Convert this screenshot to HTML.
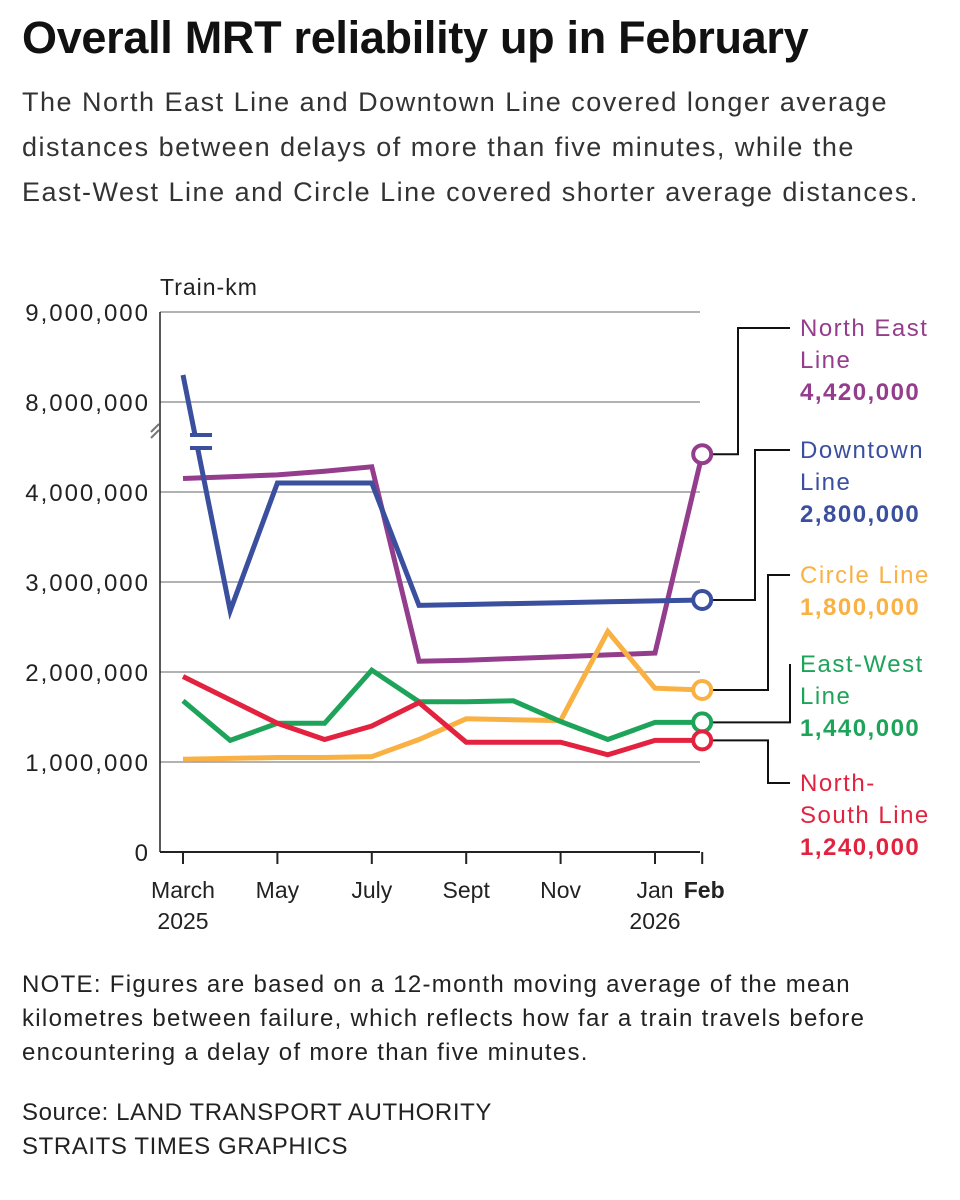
<!DOCTYPE html>
<html><head><meta charset="utf-8"><style>
body{margin:0;background:#fff;width:960px;height:1200px;overflow:hidden;font-family:"Liberation Sans",sans-serif;}
.t{position:absolute;left:22px;top:12px;font-size:45px;font-weight:bold;color:#111;letter-spacing:-0.3px}
.s{position:absolute;left:22px;top:80px;font-size:27px;line-height:45px;color:#333;white-space:nowrap;letter-spacing:1.5px}
.n{position:absolute;left:22px;top:968px;font-size:24px;line-height:34px;color:#222;white-space:nowrap;letter-spacing:1.3px}
.src{position:absolute;left:22px;top:1096px;font-size:24px;line-height:34px;color:#222;letter-spacing:0.6px}
svg{position:absolute;left:0;top:0}
</style></head><body>
<div class="t">Overall MRT reliability up in February</div>
<div class="s">The North East Line and Downtown Line covered longer average<br>distances between delays of more than five minutes, while the<br>East-West Line and Circle Line covered shorter average distances.</div>
<svg id="c" width="960" height="1200"></svg>
<div class="n">NOTE: Figures are based on a 12-month moving average of the mean<br>kilometres between failure, which reflects how far a train travels before<br>encountering a delay of more than five minutes.</div>
<div class="src">Source: LAND TRANSPORT AUTHORITY<br>STRAITS TIMES GRAPHICS</div>
<script>
const months=["Mar","Apr","May","Jun","Jul","Aug","Sep","Oct","Nov","Dec","Jan","Feb"];
const nel=[4150000,4170000,4190000,4230000,4280000,2120000,2130000,2150000,2170000,2190000,2210000,4420000];
const dtl=[8300000,2680000,4100000,4100000,4100000,2740000,2750000,2760000,2770000,2780000,2790000,2800000];
const ccl=[1030000,1040000,1050000,1050000,1060000,1250000,1480000,1470000,1460000,2450000,1820000,1800000];
const ewl=[1680000,1240000,1430000,1430000,2020000,1670000,1670000,1680000,1450000,1250000,1440000,1440000];
const nsl=[1950000,1690000,1430000,1250000,1400000,1660000,1220000,1220000,1220000,1080000,1240000,1240000];
const yTicks=[0,1000000,2000000,3000000,4000000,8000000,9000000];
const yTickLabels=["0","1,000,000","2,000,000","3,000,000","4,000,000","8,000,000","9,000,000"];
const xTickIdx=[0,2,4,6,8,10,11];
const xTickLabels=[["March","2025"],["May",""],["July",""],["Sept",""],["Nov",""],["Jan","2026"],["Feb",""]];
const series=[
 {name:"north-east-line",vals:nel,color:"#953d8d",label:["North East","Line"],value:"4,420,000",ly:328},
 {name:"downtown-line",vals:dtl,color:"#3a4f9e",label:["Downtown","Line"],value:"2,800,000",ly:450},
 {name:"circle-line",vals:ccl,color:"#f9b143",label:["Circle Line"],value:"1,800,000",ly:575},
 {name:"east-west-line",vals:ewl,color:"#1ea45a",label:["East-West","Line"],value:"1,440,000",ly:664},
 {name:"north-south-line",vals:nsl,color:"#e2223e",label:["North-","South Line"],value:"1,240,000",ly:783}];
const connX=[738,755,768,790,768];
const svg=document.getElementById('c');const NS="http://www.w3.org/2000/svg";
function el(t,a,p){const e=document.createElementNS(NS,t);for(const k in a)e.setAttribute(k,a[k]);(p||svg).appendChild(e);return e;}
function x(i){return 183+i*47.2;}
function y(v){return v>=6000000?402-(v-8000000)/1000000*90:852-v/1000000*90;}
yTicks.forEach((v,i)=>{
 const g=el('line',{x1:160,x2:700,y1:y(v),y2:y(v),stroke:i==0?"#222":"#999","stroke-width":i==0?2:1.5});
 
 const t=el('text',{x:150,y:y(v)+9,"text-anchor":"end","font-size":24,fill:"#222","letter-spacing":2});t.textContent=yTickLabels[i];
 
});
let ax=el('line',{x1:160,x2:160,y1:312,y2:852,stroke:"#222","stroke-width":1.5});

let yt=el('text',{x:160,y:295,"font-size":23,fill:"#222","letter-spacing":1});yt.textContent="Train-km";

let br=el('g',{stroke:"#777","stroke-width":2});
el('line',{x1:151,y1:432,x2:159,y2:424},br);el('line',{x1:151,y1:438,x2:159,y2:430},br);
xTickIdx.forEach((idx,i)=>{
 const tk=el('line',{x1:x(idx),x2:x(idx),y1:852,y2:864,stroke:"#222","stroke-width":2});
 
 const t=el('text',{x:x(idx)+(idx==11?2:0),y:898,"text-anchor":"middle","font-size":23,fill:"#222","font-weight":idx==11?"bold":"normal"});
 
 t.textContent=xTickLabels[i][0];
 if(xTickLabels[i][1]){const t2=el('text',{x:x(idx),y:929,"text-anchor":"middle","font-size":23,fill:"#222"});t2.textContent=xTickLabels[i][1];
 }
});
series.forEach((s,k)=>{
 const d=s.vals.map((v,i)=>(i?"L":"M")+x(i)+","+y(v)).join(" ");
 const p=el('path',{d:d,fill:"none",stroke:s.color,"stroke-width":5,"stroke-linejoin":"miter"});
 
});
let bm=el('g',{stroke:"#3a4f9e","stroke-width":4});
el('line',{x1:190,x2:212,y1:435,y2:435},bm);el('line',{x1:190,x2:212,y1:448,y2:448},bm);
el('rect',{x:190,y:437,width:22,height:9,fill:"#fff",stroke:"none"},svg);
series.forEach((s,k)=>{
 const ex=x(11),ey=y(s.vals[11]),cx=connX[k];
 const c=el('path',{d:`M${ex+10},${ey} H${cx} V${s.ly} H790`,fill:"none",stroke:"#111","stroke-width":2});
 
 const m=el('circle',{cx:ex,cy:ey,r:9,fill:"#fff",stroke:s.color,"stroke-width":4});
 
 const top=s.ly-1;
 s.label.forEach((l,j)=>{const t=el('text',{x:800,y:top+9+j*32,"font-size":24,fill:s.color,"letter-spacing":1.5});t.textContent=l;
  });
 const tv=el('text',{x:800,y:top+9+s.label.length*32,"font-size":24,"font-weight":"bold",fill:s.color,"letter-spacing":1.5});tv.textContent=s.value;
 
});
</script>
</body></html>
